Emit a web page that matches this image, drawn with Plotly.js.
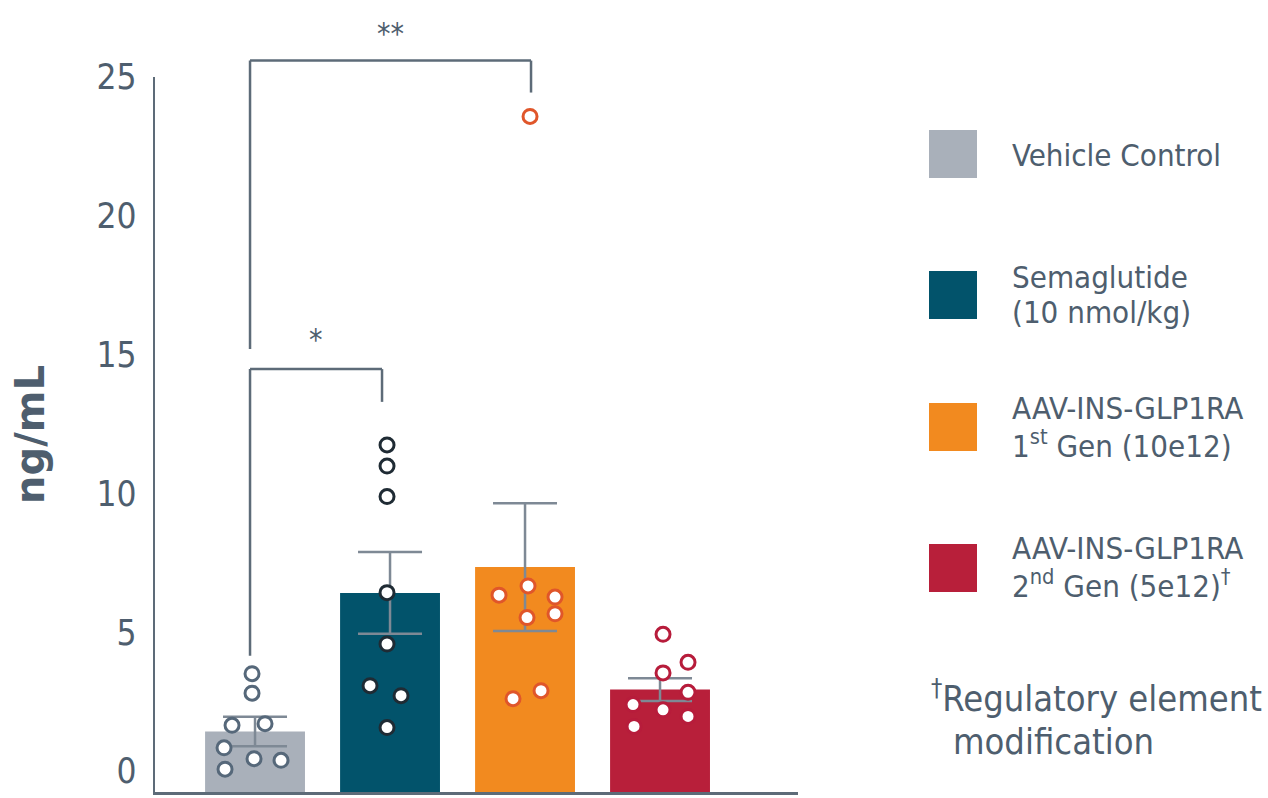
<!DOCTYPE html>
<html>
<head>
<meta charset="utf-8">
<script src="https://cdn.plot.ly/plotly-3.0.1.min.js"></script>
<style>
  html, body { margin: 0; padding: 0; background: #ffffff; }
  #chart { width: 1268px; height: 798px; }
</style>
</head>
<body>
<div id="chart"></div>
<script>
// ---------------- data ----------------
const categories = ['Vehicle Control', 'Semaglutide (10 nmol/kg)', 'AAV-INS-GLP1RA 1st Gen (10e12)', 'AAV-INS-GLP1RA 2nd Gen (5e12)'];
const barColors = ['#a9b0ba', '#02536b', '#f28a1f', '#b81f3a'];
const pointLineColors = ['#56687a', '#1f2b34', '#e0562a', '#b71c3b'];
const means = [1.43, 6.42, 7.35, 2.94];
const sems = [0.53, 1.47, 2.30, 0.41];

const vehiclePoints = [3.51, 2.81, 1.65, 1.71, 0.84, 0.45, 0.39, 0.07];
const semaglutidePoints = [11.75, 10.99, 9.89, 6.43, 4.58, 3.08, 2.72, 1.57];
const gen1Points = [23.58, 6.67, 6.34, 6.27, 5.67, 5.53, 2.90, 2.61];
const gen2Points = [4.93, 3.92, 3.54, 2.84, 2.40, 2.21, 1.97, 1.61];

// horizontal scatter of the dots, in pixels from the bar centre
const vehicleJitter = [-3, -3, -23, 10, -31, -1, 26, -30];
const semaglutideJitter = [-3, -3, -3, -3, -3, -20, 11, -3];
const gen1Jitter = [5, 3, -26, 30, 30, 2, 16, -12];
const gen2Jitter = [3, 28, 3, 28, -27, 3, 28, -26];

const yTicks = [0, 5, 10, 15, 20, 25];
const yTickLabels = ['0', '5', '10', '15', '20', '25'];
const yTitle = 'ng/mL';

const legendLines = [
  ['Vehicle Control'],
  ['Semaglutide', '(10 nmol/kg)'],
  ['AAV-INS-GLP1RA', '1<sup>st</sup> Gen (10e12)'],
  ['AAV-INS-GLP1RA', '2<sup>nd</sup> Gen (5e12)<sup>†</sup>']
];
const footnoteLines = ['<sup>†</sup>Regulatory element', 'modification'];

// significance brackets: groups compared and the label
const brackets = [
  {from: 0, to: 2, top: 25.59, leftEnd: 15.20, rightEnd: 24.44, label: '**', labelY: 26.55},
  {from: 0, to: 1, top: 14.48, leftEnd: 4.16, rightEnd: 13.30, label: '*', labelY: 15.55}
];

// ---------------- layout geometry ----------------
const W = 1268, H = 798;
const L = 155, R = 798, T = 77, B = 792;
const yMin = -0.75, yMax = 25;
const xMin = -0.741, xMax = 4.022;
const pxPerUnit = (R - L) / (xMax - xMin);
const px = x => (x - L) / (R - L);
const py = y => (B - y) / (B - T);
const dataToPaperY = v => (v - yMin) / (yMax - yMin);

const textColor = '#4e5e6e';
const lineColor = '#5d6b78';
const fontFamily = '"DejaVu Sans Condensed", "DejaVu Sans", sans-serif';

const allPoints = [vehiclePoints, semaglutidePoints, gen1Points, gen2Points];
const allJitter = [vehicleJitter, semaglutideJitter, gen1Jitter, gen2Jitter];
const idx = categories.map((c, i) => i);

const traces = [];
// bars rise from the bottom of the axis (below zero), as in the reference
traces.push({
  type: 'bar',
  x: idx,
  base: yMin,
  y: means.map(m => m - yMin),
  width: 0.74,
  marker: {color: barColors, line: {width: 0}},
  error_y: {type: 'data', array: sems, visible: true, color: '#7e8995', thickness: 2.5, width: 32},
  showlegend: false,
  hoverinfo: 'skip'
});
allPoints.forEach((pts, i) => {
  traces.push({
    type: 'scatter',
    mode: 'markers',
    x: pts.map((v, k) => i + allJitter[i][k] / pxPerUnit),
    y: pts,
    marker: {size: 14, color: '#ffffff', line: {color: pointLineColors[i], width: 3}},
    cliponaxis: false,
    showlegend: false,
    hoverinfo: 'skip'
  });
});

const shapes = [];
const annotations = [];

// brackets (x offsets for leg placement measured in px)
const legOffsetPx = {0: -5, 1: -8, 2: 6};
brackets.forEach(b => {
  const x0 = b.from + legOffsetPx[b.from] / pxPerUnit;
  const x1 = b.to + legOffsetPx[b.to] / pxPerUnit;
  const ln = {color: lineColor, width: 2.5};
  shapes.push({type: 'line', xref: 'x', yref: 'paper', x0: x0, x1: x1, y0: dataToPaperY(b.top), y1: dataToPaperY(b.top), line: ln});
  shapes.push({type: 'line', xref: 'x', yref: 'paper', x0: x0, x1: x0, y0: dataToPaperY(b.top), y1: dataToPaperY(b.leftEnd), line: ln});
  shapes.push({type: 'line', xref: 'x', yref: 'paper', x0: x1, x1: x1, y0: dataToPaperY(b.top), y1: dataToPaperY(b.rightEnd), line: ln});
  annotations.push({xref: 'x', yref: 'paper', x: (x0 + x1) / 2, y: dataToPaperY(b.labelY), text: b.label,
    showarrow: false, xanchor: 'center', yanchor: 'middle', font: {size: 30, color: textColor, family: fontFamily}});
});

// custom legend
const squareTops = [130, 271, 403, 544];
const lineCentres = [[155], [277, 312], [408, 444], [548, 584]];
legendLines.forEach((lines, i) => {
  shapes.push({type: 'rect', xref: 'paper', yref: 'paper', x0: px(929), x1: px(977), y0: py(squareTops[i]), y1: py(squareTops[i] + 48),
    fillcolor: barColors[i], line: {width: 0}});
  lines.forEach((t, k) => {
    annotations.push({xref: 'paper', yref: 'paper', x: px(1010), y: py(lineCentres[i][k]), text: t, showarrow: false,
      xanchor: 'left', yanchor: 'middle', font: {size: 31, color: textColor, family: fontFamily}});
  });
});
annotations.push({xref: 'paper', yref: 'paper', x: px(929), y: py(696), text: footnoteLines[0], showarrow: false,
  xanchor: 'left', yanchor: 'middle', font: {size: 36, color: textColor, family: fontFamily}});
annotations.push({xref: 'paper', yref: 'paper', x: px(951), y: py(741), text: footnoteLines[1], showarrow: false,
  xanchor: 'left', yanchor: 'middle', font: {size: 36, color: textColor, family: fontFamily}});

const layout = {
  width: W, height: H,
  margin: {l: L, r: W - R, t: T, b: H - B, pad: 0},
  paper_bgcolor: '#ffffff', plot_bgcolor: '#ffffff',
  font: {family: fontFamily, color: textColor},
  showlegend: false,
  xaxis: {range: [xMin, xMax], showgrid: false, zeroline: false, showticklabels: false, ticks: '',
    showline: true, linecolor: lineColor, linewidth: 2.5, fixedrange: true},
  yaxis: {range: [yMin, yMax], showgrid: false, zeroline: false, tickvals: yTicks, ticktext: yTickLabels, ticks: '',
    ticklabelstandoff: 9, tickfont: {size: 35, color: textColor, family: fontFamily},
    showline: true, linecolor: lineColor, linewidth: 2.5, fixedrange: true,
    title: {text: '<b>' + yTitle + '</b>', standoff: 40, font: {size: 40, color: textColor, family: '"DejaVu Sans", sans-serif'}}},
  shapes: shapes,
  annotations: annotations,
  hovermode: false
};

Plotly.newPlot('chart', traces, layout, {staticPlot: true, displayModeBar: false});
</script>
</body>
</html>
